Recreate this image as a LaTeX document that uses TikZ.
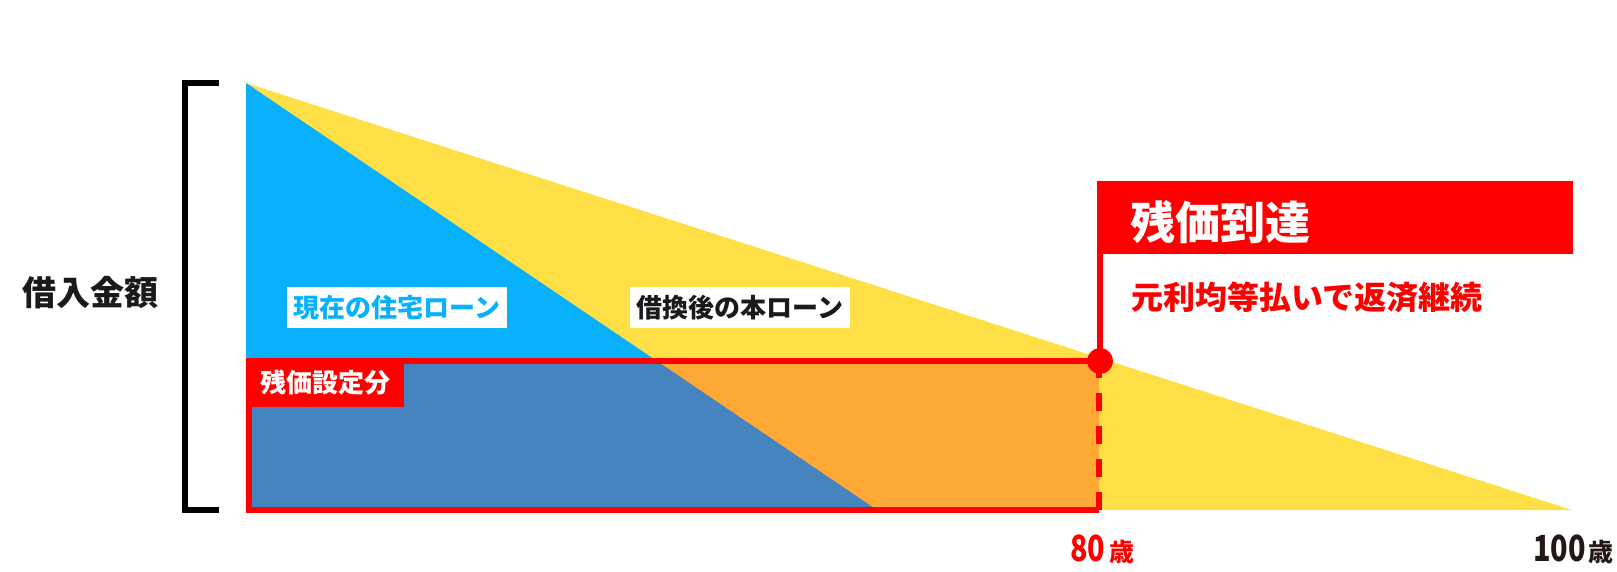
\documentclass[tikz,border=0pt]{standalone}
\usepackage{fontspec}
\newfontfamily\jp{Noto Sans CJK JP}
\newfontfamily\jpnum{Noto Sans CJK JP}[FakeStretch=0.8]
\definecolor{ylw}{HTML}{FEE046}
\definecolor{skyb}{HTML}{09B1FD}
\definecolor{steel}{HTML}{4584BF}
\definecolor{orng}{HTML}{FEA836}
\definecolor{pure}{HTML}{FF0000}
\definecolor{ink}{HTML}{1A1A1A}
\definecolor{ink2}{HTML}{231815}
\tikzset{
  redline/.style={draw=pure, line width=6pt},
  labelbox/.style={fill=white, inner sep=0pt, minimum width=220pt, minimum height=41pt, font=\jp\bfseries\fontsize{26}{26}\selectfont},
  freetext/.style={inner sep=0pt, anchor=west},
}
\begin{document}
\begin{tikzpicture}[x=1pt,y=-1pt]
\useasboundingbox (0,0) rectangle (1617,572);
% triangles
\fill[ylw] (246,83) -- (1572,510) -- (246,510) -- cycle;
\fill[skyb] (246,83) -- (877,510) -- (246,510) -- cycle;
\begin{scope}
  \clip (249,361) rectangle (1099,510);
  \fill[orng] (246,83) -- (1572,510) -- (246,510) -- cycle;
  \fill[steel] (246,83) -- (877,510) -- (246,510) -- cycle;
\end{scope}
% residual-value rectangle
\draw[redline, line join=miter] (1099,361) -- (249,361) -- (249,510) -- (1099,510);
\draw[draw=pure, line width=6pt, dash pattern=on 18pt off 15pt] (1099,510) -- (1099,372);
\node[fill=pure, text=white, inner sep=0pt, minimum width=158pt, minimum height=49pt,
      font=\jp\bfseries\fontsize{26}{26}\selectfont] (zanka) at (325,382.5) {残価設定分};
% bracket
\draw[draw=black, line width=6pt, line join=miter] (219,83) -- (185,83) -- (185,510) -- (219,510);
\node[inner sep=0pt, text=ink, font=\jp\bfseries\fontsize{34}{34}\selectfont] (amount) at (90,293) {借入金額};
% loan labels
\node[labelbox, text=skyb] (cur) at (397,307.5) {現在の住宅ローン};
\node[labelbox, text=ink] (new) at (740,307.5) {借換後の本ローン};
% flag
\node[circle, fill=pure, inner sep=0pt, minimum size=26pt] (dot) at (1100,361) {};
\node[fill=pure, anchor=north west, inner sep=0pt, minimum width=476pt, minimum height=73pt] (head) at (1097,181) {};
\node[freetext, text=white, font=\jp\bfseries\fontsize{45}{45}\selectfont] (headtxt) at (1130,222) {残価到達};
\draw[redline] (dot.center) -- (dot.center |- head.south);
\node[freetext, text=pure, font=\jp\bfseries\fontsize{32}{32}\selectfont] (cont) at (1131,297) {元利均等払いで返済継続};
% ages
\node[inner sep=0pt, anchor=base west, text=pure] (age80) at (1070,561)
  {{\jpnum\bfseries\fontsize{36}{36}\selectfont 80}\hspace{4pt}{\jp\bfseries\fontsize{25}{25}\selectfont 歳}};
\node[inner sep=0pt, anchor=base west, text=ink2] (age100) at (1533,561)
  {{\jpnum\bfseries\fontsize{36}{36}\selectfont 100}\hspace{3pt}{\jp\bfseries\fontsize{25}{25}\selectfont 歳}};
\end{tikzpicture}
\end{document}
